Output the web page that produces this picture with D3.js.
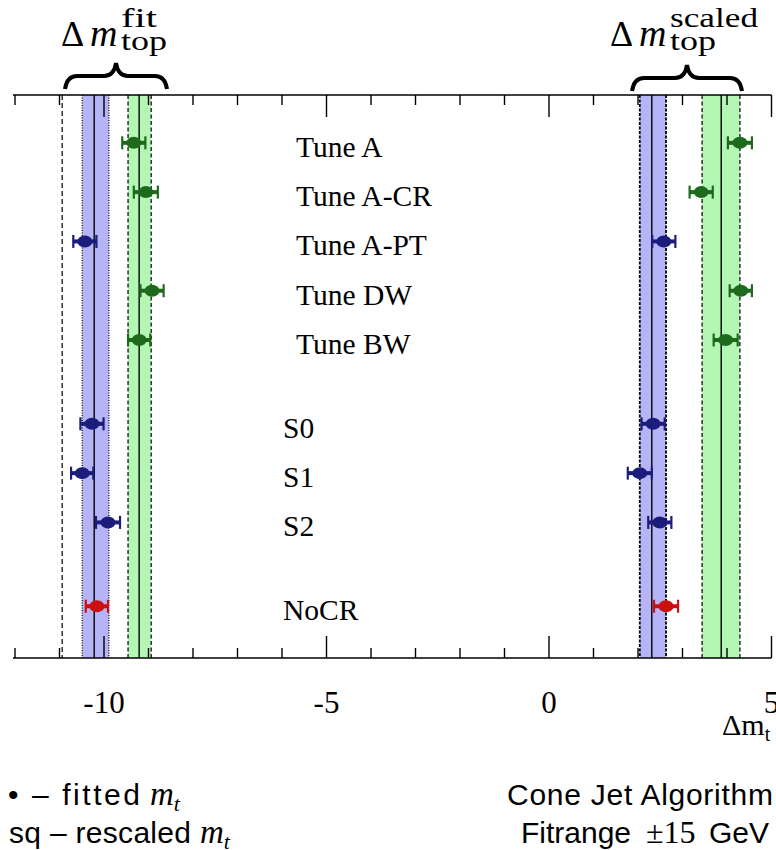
<!DOCTYPE html>
<html>
<head>
<meta charset="utf-8">
<script src="https://cdnjs.cloudflare.com/ajax/libs/d3/7.8.5/d3.min.js"></script>
<style>
  body { margin: 0; background: #fff; }
  svg { display: block; }
  .serif { font-family: 'Liberation Serif', 'Times New Roman', serif; }
  .sans { font-family: 'Liberation Sans', Arial, sans-serif; }
</style>
</head>
<body>
<div id="chart"></div>
<script>
;(function() {
  'use strict';

  // rows, top to bottom
  var labels = ['Tune A', 'Tune A-CR', 'Tune A-PT', 'Tune DW', 'Tune BW', 'S0', 'S1', 'S2', 'NoCR'],
      rowPos = [0, 1, 2, 3, 4, 5.7, 6.7, 7.7, 9.4],
      groups = ['g', 'g', 'b', 'g', 'g', 'b', 'b', 'b', 'r'];

  // fitted (left) and rescaled (right) mass shifts, GeV
  var fitted      = [-9.33, -9.06, -10.43, -8.92, -9.21, -10.27, -10.49, -9.91, -10.16],
      fittedErr   = [0.26, 0.27, 0.26, 0.26, 0.25, 0.26, 0.25, 0.27, 0.25],
      rescaled    = [4.29, 3.42, 2.58, 4.31, 3.97, 2.34, 2.04, 2.49, 2.63],
      rescaledErr = [0.27, 0.26, 0.26, 0.25, 0.27, 0.26, 0.27, 0.26, 0.27];

  // bands: low, centre, high
  var bandGroup = ['b', 'g', 'b', 'g'],
      bandLow   = [-10.49, -9.46, 2.04, 3.44],
      bandMid   = [-10.22, -9.21, 2.31, 3.87],
      bandHigh  = [-9.89, -8.94, 2.63, 4.29],
      bandEdge  = ['1,1.5', '4,2.5', '3,1.5', '4,2.5'];

  var extraLine = -10.94;

  var tickValues = d3.range(-12, 6),
      tickLabels = [-10, -5, 0, 5];

  var width = 776, height = 850,
      top = 95, bottom = 658;

  var colors = { g: '#1d6a1d', b: '#1c1c7c', r: '#cc1010' },
      bandFill = { b: '#b4b4f6', g: '#b4f6b4' };

  var x = d3.scaleLinear().domain([-12, 5]).range([15, 771.5]),
      y = d3.scaleLinear().domain([-0.97, 10.45]).range([top, bottom]);

  var svg = d3.select('#chart').append('svg')
    .attr('width', width)
    .attr('height', height);

  // bands
  var bands = svg.append('g').classed('bands', true);
  bandLow.forEach(function(lo, i) {
    bands.append('rect')
      .attr('x', x(lo))
      .attr('y', top)
      .attr('width', x(bandHigh[i]) - x(lo))
      .attr('height', bottom - top)
      .attr('fill', bandFill[bandGroup[i]]);
    [lo, bandHigh[i]].forEach(function(v) {
      bands.append('line')
        .attr('x1', x(v)).attr('x2', x(v))
        .attr('y1', top).attr('y2', bottom)
        .attr('stroke', '#000')
        .attr('stroke-width', i === 2 ? 1.8 : 1.2)
        .attr('stroke-dasharray', bandEdge[i]);
    });
    bands.append('line')
      .attr('x1', x(bandMid[i])).attr('x2', x(bandMid[i]))
      .attr('y1', top).attr('y2', bottom)
      .attr('stroke', '#000')
      .attr('stroke-width', 1.4);
  });
  bands.append('line')
    .attr('x1', x(extraLine)).attr('x2', x(extraLine))
    .attr('y1', top).attr('y2', bottom)
    .attr('stroke', '#000')
    .attr('stroke-width', 1.2)
    .attr('stroke-dasharray', '5,3');

  // axes: top and bottom lines with inward ticks
  var axisG = svg.append('g').attr('stroke', '#000').attr('stroke-width', 1.4);
  axisG.append('line').attr('x1', x(-12) - 2).attr('x2', x(5)).attr('y1', top).attr('y2', top);
  axisG.append('line').attr('x1', x(-12) - 2).attr('x2', x(5)).attr('y1', bottom).attr('y2', bottom);
  tickValues.forEach(function(v) {
    var len = v % 5 === 0 ? 22 : 10;
    axisG.append('line').attr('x1', x(v)).attr('x2', x(v)).attr('y1', top).attr('y2', top + len);
    axisG.append('line').attr('x1', x(v)).attr('x2', x(v)).attr('y1', bottom).attr('y2', bottom - len);
  });

  svg.append('g').selectAll('text').data(tickLabels).enter()
    .append('text')
    .classed('serif', true)
    .attr('x', function(d) { return x(d); })
    .attr('y', 713)
    .attr('text-anchor', 'middle')
    .attr('font-size', 31)
    .text(function(d) { return d < 0 ? '-' + Math.abs(d) : d; });

  var axLab = svg.append('text').classed('serif', true)
    .attr('x', 722).attr('y', 735).attr('font-size', 30);
  axLab.append('tspan').text('\u0394m');
  axLab.append('tspan').attr('font-size', 20).attr('dy', 6).text('t');

  // row labels
  svg.append('g').selectAll('text').data(labels).enter()
    .append('text')
    .classed('serif', true)
    .attr('x', function(d, i) { return i < 5 ? 296 : 283; })
    .attr('y', function(d, i) { return y(rowPos[i]) + 14; })
    .attr('font-size', 29.5)
    .text(function(d) { return d; });

  // points with error bars
  function drawPoints(vals, errs) {
    var g = svg.append('g');
    vals.forEach(function(v, i) {
      var cy = y(rowPos[i]), c = colors[groups[i]],
          x0 = x(v - errs[i]), x1 = x(v + errs[i]);
      g.append('line').attr('x1', x0).attr('x2', x1).attr('y1', cy).attr('y2', cy)
        .attr('stroke', c).attr('stroke-width', 4);
      [x0, x1].forEach(function(xx) {
        g.append('line').attr('x1', xx).attr('x2', xx).attr('y1', cy - 6.5).attr('y2', cy + 6.5)
          .attr('stroke', c).attr('stroke-width', 2.2);
      });
      g.append('ellipse').attr('cx', x(v)).attr('cy', cy).attr('rx', 7.5).attr('ry', 6)
        .attr('fill', c);
    });
  }
  drawPoints(fitted, fittedErr);
  drawPoints(rescaled, rescaledErr);

  // braces and their titles
  function brace(x1, x2, yt, yb) {
    var xm = (x1 + x2) / 2, ym = (yt + yb) / 2, q = 12;
    return 'M' + x1 + ',' + yb +
      'Q' + (x1 + 2) + ',' + ym + ' ' + (x1 + q) + ',' + ym +
      'L' + (xm - q) + ',' + ym +
      'Q' + (xm - 2) + ',' + ym + ' ' + xm + ',' + yt +
      'Q' + (xm + 2) + ',' + ym + ' ' + (xm + q) + ',' + ym +
      'L' + (x2 - q) + ',' + ym +
      'Q' + (x2 - 2) + ',' + ym + ' ' + x2 + ',' + yb;
  }
  svg.append('path').attr('d', brace(65, 167, 63, 89))
    .attr('fill', 'none').attr('stroke', '#000').attr('stroke-width', 4);
  svg.append('path').attr('d', brace(632, 742, 65, 91))
    .attr('fill', 'none').attr('stroke', '#000').attr('stroke-width', 4);

  function title(x0, sup, supLen) {
    var t = svg.append('g').classed('serif', true);
    t.append('text').attr('x', x0).attr('y', 46).attr('font-size', 36).text('\u0394');
    t.append('text').attr('x', x0 + 29).attr('y', 46).attr('font-size', 38)
      .attr('font-style', 'italic').text('m');
    t.append('text').attr('x', x0 + 60).attr('y', 27).attr('font-size', 27)
      .attr('textLength', supLen).attr('lengthAdjust', 'spacingAndGlyphs').text(sup);
    t.append('text').attr('x', x0 + 60).attr('y', 50).attr('font-size', 27)
      .attr('textLength', 46).attr('lengthAdjust', 'spacingAndGlyphs').text('top');
  }
  title(61, 'fit', 36);
  title(610, 'scaled', 88);

  // footnotes
  function footnote(x0, y0, w, txt) {
    return svg.append('text').classed('sans', true)
      .attr('x', x0).attr('y', y0).attr('font-size', 30)
      .attr('textLength', w).attr('lengthAdjust', 'spacing')
      .text(txt);
  }
  function mt(x0, y0) {
    var t = svg.append('text').classed('serif', true)
      .attr('x', x0).attr('y', y0).attr('font-size', 33).attr('font-style', 'italic');
    t.append('tspan').text('m');
    t.append('tspan').attr('font-size', 22).attr('dy', 6).text('t');
  }
  footnote(8, 805, 132, '\u2022 \u2013 fitted');
  mt(150, 805);
  footnote(9, 843, 182, 'sq \u2013 rescaled');
  mt(200, 843);

  footnote(507, 805, 266, 'Cone Jet Algorithm');
  svg.append('text').classed('sans', true).attr('x', 521).attr('y', 843).attr('font-size', 30)
    .attr('textLength', 110).attr('lengthAdjust', 'spacing').text('Fitrange');
  svg.append('text').classed('serif', true).attr('x', 646).attr('y', 843).attr('font-size', 32)
    .text('\u00b115');
  svg.append('text').classed('sans', true).attr('x', 709).attr('y', 843).attr('font-size', 30)
    .text('GeV');
})();
</script>
</body>
</html>
